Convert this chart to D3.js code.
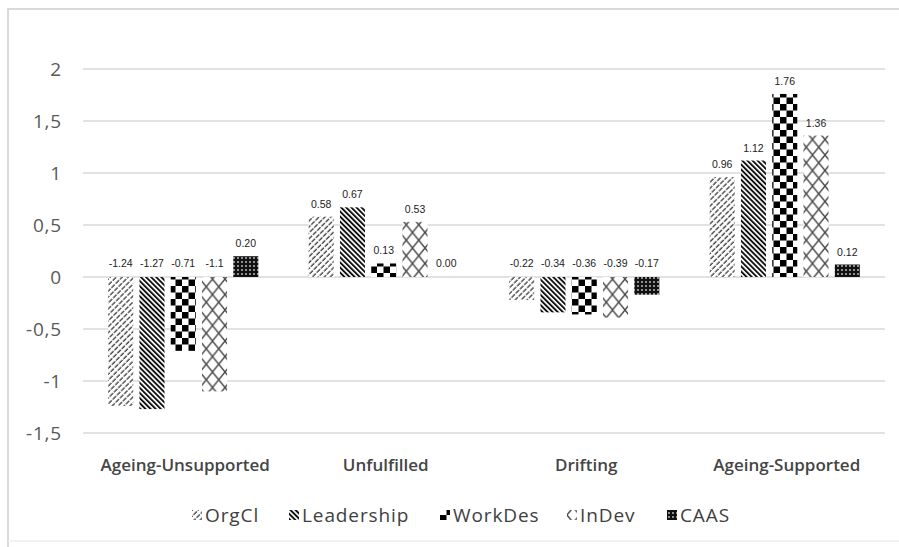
<!DOCTYPE html>
<html><head><meta charset="utf-8">
<script src="https://cdn.jsdelivr.net/npm/d3@7"></script>
<style>body{margin:0;background:#fff}svg{display:block}</style>
</head><body>
<svg id="c" width="899" height="547"></svg>
<script>
const categories = ["Ageing-Unsupported","Unfulfilled","Drifting","Ageing-Supported"];
const seriesNames = ["OrgCl","Leadership","WorkDes","InDev","CAAS"];
const OrgCl      = [-1.24, 0.58, -0.22, 0.96];
const Leadership = [-1.27, 0.67, -0.34, 1.12];
const WorkDes    = [-0.71, 0.13, -0.36, 1.76];
const InDev      = [-1.1,  0.53, -0.39, 1.36];
const CAAS       = [0.20,  0.00, -0.17, 0.12];
const valueLabels = [
  ["-1.24","0.58","-0.22","0.96"],
  ["-1.27","0.67","-0.34","1.12"],
  ["-0.71","0.13","-0.36","1.76"],
  ["-1.1","0.53","-0.39","1.36"],
  ["0.20","0.00","-0.17","0.12"]
];
const yTicks = [-1.5,-1,-0.5,0,0.5,1,1.5,2];

const seriesValues = [OrgCl, Leadership, WorkDes, InDev, CAAS];
const svg = d3.select("#c");
const defs = svg.append("defs");

// patterns
const pOrg = defs.append("pattern").attr("id","p0").attr("patternUnits","userSpaceOnUse")
  .attr("width",4.2).attr("height",6).attr("patternTransform","rotate(45)");
pOrg.append("rect").attr("width",4.2).attr("height",6).attr("fill","#fff");
pOrg.append("line").attr("x1",1).attr("y1",0).attr("x2",1).attr("y2",4.8)
  .attr("stroke","#3a3a3a").attr("stroke-width",1.3);

const pLead = defs.append("pattern").attr("id","p1").attr("patternUnits","userSpaceOnUse")
  .attr("width",3.6).attr("height",4).attr("patternTransform","rotate(-45)");
pLead.append("rect").attr("width",3.6).attr("height",4).attr("fill","#fff");
pLead.append("rect").attr("x",0).attr("width",1.9).attr("height",4).attr("fill","#111");

const pWork = defs.append("pattern").attr("id","p2").attr("patternUnits","userSpaceOnUse")
  .attr("width",13).attr("height",13);
pWork.append("rect").attr("width",13).attr("height",13).attr("fill","#fff");
pWork.append("rect").attr("x",0).attr("y",0).attr("width",6.5).attr("height",6.5).attr("fill","#000");
pWork.append("rect").attr("x",6.5).attr("y",6.5).attr("width",6.5).attr("height",6.5).attr("fill","#000");

const pInd = defs.append("pattern").attr("id","p3").attr("patternUnits","userSpaceOnUse")
  .attr("width",12.5).attr("height",15.5);
pInd.append("rect").attr("width",12.5).attr("height",15.5).attr("fill","#fff");
pInd.append("path").attr("d","M0,0L12.5,15.5M12.5,0L0,15.5")
  .attr("stroke","#4a4a4a").attr("stroke-width",1.4).attr("fill","none");

const pCaas = defs.append("pattern").attr("id","p4").attr("patternUnits","userSpaceOnUse")
  .attr("width",4).attr("height",4);
pCaas.append("rect").attr("width",4).attr("height",4).attr("fill","#111");
pCaas.append("circle").attr("cx",2).attr("cy",2).attr("r",0.9).attr("fill","#ccc");

// frame
svg.append("path").attr("d","M8,547V9H899").attr("fill","none").attr("stroke","#d9d9d9").attr("stroke-width",2);
svg.append("line").attr("x1",8).attr("x2",899).attr("y1",541).attr("y2",541).attr("stroke","#eee").attr("stroke-width",1.5);

const y = d3.scaleLinear().domain([-1.5,2]).range([433,69]);
const x0 = d3.scaleBand().domain(categories).range([83,885]).padding(0);
const bw = x0.bandwidth();
const x1 = d3.scaleBand().domain(seriesNames).range([bw*0.11, bw*0.89]).paddingInner(0.2).paddingOuter(0.1);

// grid
svg.append("g").selectAll("line").data(yTicks).join("line")
  .attr("x1",83).attr("x2",885).attr("y1",d=>y(d)).attr("y2",d=>y(d))
  .attr("stroke","#d9d9d9").attr("stroke-width",1.5);

// y axis labels
const fmt = d => String(d).replace(".", ",");
svg.append("g").selectAll("text").data(yTicks).join("text")
  .attr("x",62).attr("y",d=>y(d)).attr("dy","0.35em")
  .attr("text-anchor","end").attr("font-family","'Open Sans', sans-serif")
  .attr("font-size",19).attr("letter-spacing",0.8).attr("fill","#595959").text(fmt);

// bars
const bars = [];
seriesNames.forEach((s,si)=>{
  categories.forEach((c,ci)=>{
    bars.push({s,si,c,ci,v:seriesValues[si][ci],lab:valueLabels[si][ci]});
  });
});
svg.append("g").selectAll("rect").data(bars).join("rect")
  .attr("x",d=>x0(d.c)+x1(d.s)).attr("width",x1.bandwidth())
  .attr("y",d=>y(Math.max(0,d.v))).attr("height",d=>Math.abs(y(d.v)-y(0)))
  .attr("fill",d=>`url(#p${d.si})`);

svg.append("g").selectAll("text").data(bars).join("text")
  .attr("x",d=>x0(d.c)+x1(d.s)+x1.bandwidth()/2)
  .attr("y",d=>d.v>0 ? y(d.v)-9 : y(0)-10)
  .attr("text-anchor","middle").attr("font-family","Arial, 'Liberation Sans', sans-serif")
  .attr("font-size",10.5).attr("fill","#222").text(d=>d.lab);

// category labels
svg.append("g").selectAll("text").data(categories).join("text")
  .attr("x",d=>x0(d)+bw/2+2).attr("y",471)
  .attr("text-anchor","middle").attr("font-family","'Open Sans', sans-serif")
  .attr("font-weight",600).attr("font-size",17).attr("fill","#454545").text(d=>d);

// legend
const legX = [192, 289, 440, 567, 667];
const lg = svg.append("g").selectAll("g").data(seriesNames).join("g")
  .attr("transform",(d,i)=>`translate(${legX[i]},515)`);
lg.append("rect").attr("x",0).attr("y",-5).attr("width",10).attr("height",10)
  .attr("fill",(d,i)=>`url(#p${i})`);
lg.append("text").attr("x",13).attr("y",0).attr("dy","0.35em")
  .attr("font-family","'Open Sans', sans-serif").attr("font-size",19).attr("letter-spacing",0.9)
  .attr("fill","#404040").text(d=>d);
</script>
</body></html>
